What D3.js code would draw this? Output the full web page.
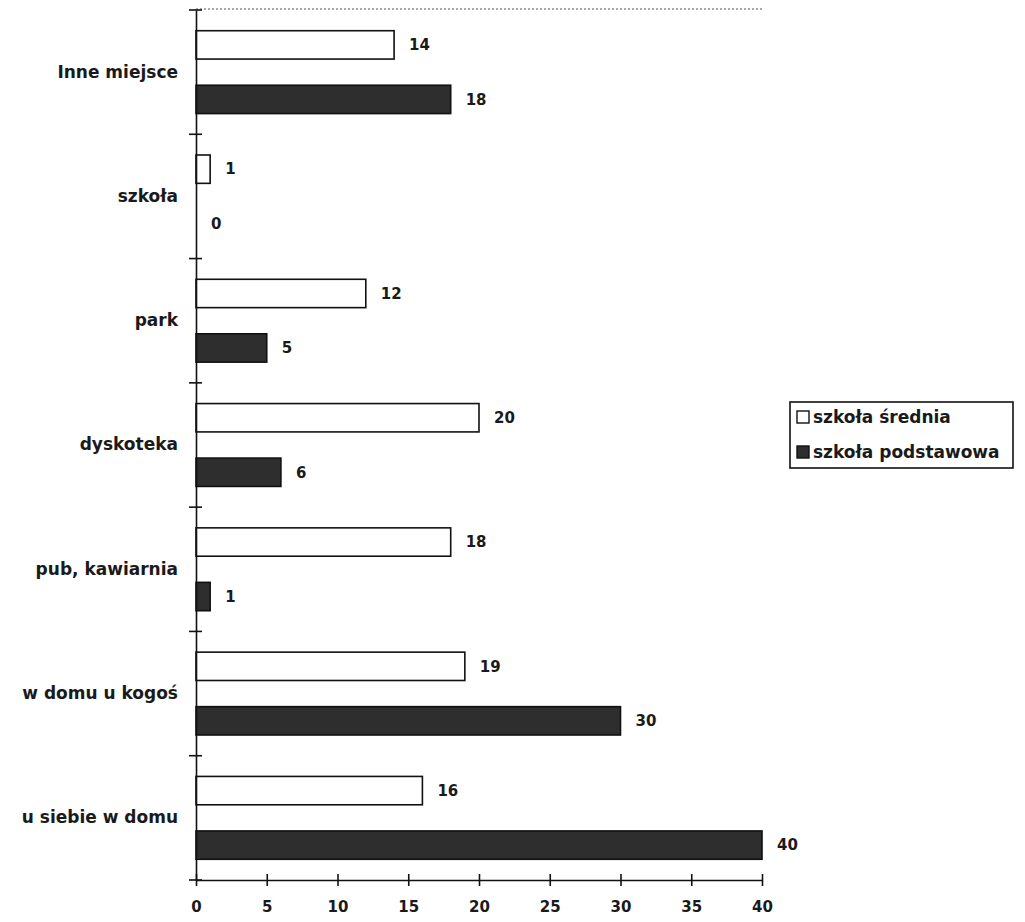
<!DOCTYPE html>
<html><head><meta charset="utf-8">
<script src="https://cdn.jsdelivr.net/npm/d3@7"></script>
<style>body{margin:0;background:#fff;} text{font-family:"DejaVu Sans",sans-serif;font-weight:bold;fill:#1a1a1a;}</style>
</head><body>
<svg id="c" width="1025" height="922"></svg>
<script>
const categories = ["Inne miejsce","szkoła","park","dyskoteka","pub, kawiarnia","w domu u kogoś","u siebie w domu"];
const sredniaValues = [14,1,12,20,18,19,16];
const podstawowaValues = [18,0,5,6,1,30,40];
const seriesNames = ["szkoła  średnia","szkoła podstawowa"];
const xTicks = [0,5,10,15,20,25,30,35,40];

const FONT = "'DejaVu Sans',sans-serif";
const svg = d3.select("#c");
const L=196, R=762, T=10, B=880;
const x = d3.scaleLinear().domain([0,40]).range([L,R]);
const y = d3.scaleBand().domain(categories).range([T,B]);
const bh = y.bandwidth();
const inner = d3.scaleBand().domain([0,1]).range([0,bh]).paddingInner(0.48).paddingOuter(0.38);

// top dotted frame line
svg.append("line").attr("x1",L).attr("x2",R).attr("y1",T-1).attr("y2",T-1)
  .attr("stroke","#555").attr("stroke-width",1).attr("stroke-dasharray","2,2");

const series = [sredniaValues, podstawowaValues];
const fills = ["#ffffff","#2e2e2e"];
series.forEach((vals,si)=>{
  const g = svg.append("g");
  g.selectAll("rect").data(categories).join("rect")
    .attr("x",x(0)).attr("y",c=>y(c)+inner(si))
    .attr("width",(c,i)=>x(vals[i])-x(0)).attr("height",inner.bandwidth())
    .attr("fill",fills[si]).attr("stroke",(c,i)=>vals[i]>0?"#111":"none").attr("stroke-width",1.6);
  g.selectAll("text").data(categories).join("text")
    .attr("x",(c,i)=>x(vals[i])+15).attr("y",c=>y(c)+inner(si)+inner.bandwidth()/2)
    .attr("dy","0.35em").attr("font-size",15).text((c,i)=>vals[i]);
});

// y axis
const yAxis = d3.axisLeft(y).tickSize(0).tickPadding(18);
const yg = svg.append("g").attr("transform",`translate(${L},0)`).call(yAxis);
yg.select(".domain").attr("stroke","#111").attr("stroke-width",1.6);
yg.selectAll("text").attr("font-size",17).attr("fill","#1a1a1a").attr("font-family",FONT).attr("font-weight","bold");
// category separator ticks
const sepY = categories.map(c=>y(c)).concat([B]);
svg.append("g").selectAll("line").data(sepY).join("line")
  .attr("x1",L-7).attr("x2",L+6).attr("y1",d=>d).attr("y2",d=>d)
  .attr("stroke","#111").attr("stroke-width",1.6);

// x axis
const xAxis = d3.axisBottom(x).tickValues(xTicks).tickSizeInner(6).tickSizeOuter(0).tickPadding(15);
const xg = svg.append("g").attr("transform",`translate(0,${B})`).call(xAxis);
xg.select(".domain").attr("stroke","#111").attr("stroke-width",1.6);
xg.selectAll(".tick line").attr("stroke","#111").attr("stroke-width",1.6).attr("y1",-6);
xg.selectAll("text").attr("font-size",15).attr("fill","#1a1a1a").attr("font-family",FONT).attr("font-weight","bold");

// legend
const lg = svg.append("g").attr("transform","translate(790,402)");
lg.append("rect").attr("width",223).attr("height",66).attr("fill","#fff").attr("stroke","#111").attr("stroke-width",1.6);
seriesNames.forEach((n,i)=>{
  lg.append("rect").attr("x",7).attr("y",9+i*35).attr("width",12).attr("height",12)
    .attr("fill",fills[i]).attr("stroke","#111").attr("stroke-width",1.4);
  lg.append("text").attr("x",23).attr("y",15+i*35).attr("dy","0.35em").attr("font-size",17).text(n);
});
</script>
</body></html>
